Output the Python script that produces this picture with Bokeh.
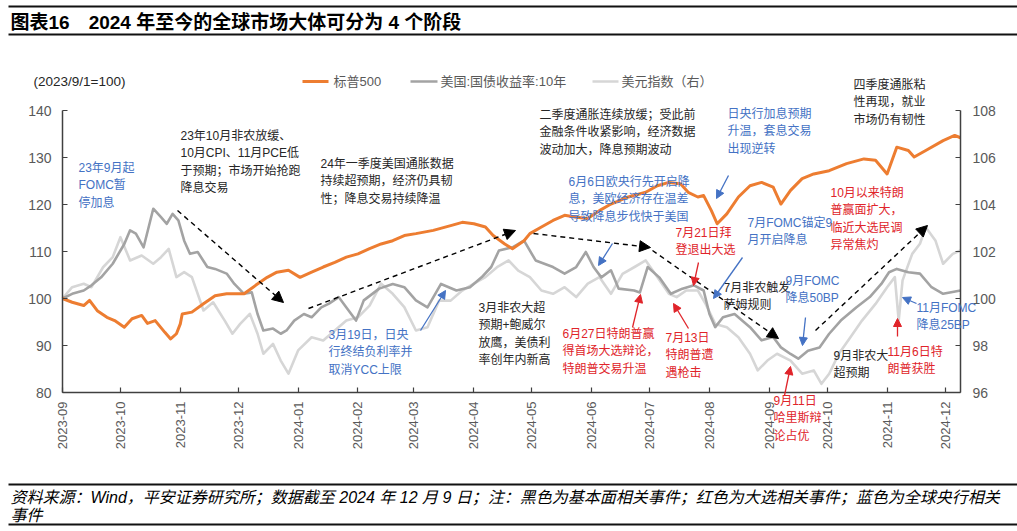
import math
from datetime import datetime
import pandas as pd
from bokeh.plotting import figure
from bokeh.models import (Range1d, LinearAxis, FixedTicker, MonthsTicker, DatetimeTickFormatter,
                          Label, Arrow, NormalHead, ColumnDataSource)
from bokeh.embed import file_html
from bokeh.resources import INLINE

# ---------------- data ----------------
spx_dates = ["2023-09-01", "2023-09-06", "2023-09-12", "2023-09-15", "2023-09-19", "2023-09-24",
             "2023-09-28", "2023-10-03", "2023-10-07", "2023-10-12", "2023-10-15", "2023-10-19",
             "2023-10-24", "2023-10-27", "2023-10-30", "2023-11-01", "2023-11-02", "2023-11-07",
             "2023-11-13", "2023-11-19", "2023-11-25", "2023-12-04", "2023-12-10", "2023-12-16",
             "2023-12-21", "2023-12-27", "2024-01-02", "2024-01-08", "2024-01-14", "2024-01-20",
             "2024-01-26", "2024-02-01", "2024-02-07", "2024-02-13", "2024-02-19", "2024-02-25",
             "2024-03-02", "2024-03-11", "2024-03-20", "2024-03-26", "2024-04-01", "2024-04-07",
             "2024-04-11", "2024-04-17", "2024-04-21", "2024-04-27", "2024-04-30", "2024-05-06",
             "2024-05-12", "2024-05-18", "2024-05-24", "2024-05-30", "2024-06-05", "2024-06-11",
             "2024-06-20", "2024-06-29", "2024-07-05", "2024-07-11", "2024-07-17", "2024-07-21",
             "2024-07-26", "2024-07-29", "2024-08-02", "2024-08-05", "2024-08-10", "2024-08-16",
             "2024-08-22", "2024-08-28", "2024-09-03", "2024-09-07", "2024-09-12", "2024-09-18",
             "2024-09-24", "2024-10-02", "2024-10-11", "2024-10-20", "2024-10-26", "2024-11-01",
             "2024-11-06", "2024-11-12", "2024-11-15", "2024-11-21", "2024-11-30", "2024-12-06",
             "2024-12-09"]
spx_values = [100, 99.2, 98.5, 99.6, 97.4, 96.0,
              95.3, 93.9, 95.7, 96.4, 94.7, 95.3,
              92.8, 91.4, 92.5, 94.6, 96.7, 97.1,
              98.9, 100.6, 101.0, 101.0, 102.8, 104.5,
              105.6, 106.0, 104.5, 105.6, 106.7, 107.7,
              108.8, 109.5, 110.6, 111.6, 112.3, 113.4,
              113.8, 114.5, 115.5, 116.2, 115.9, 115.2,
              113.4, 111.6, 110.6, 112.3, 113.8, 115.2,
              116.6, 117.7, 117.3, 117.0, 118.7, 120.1,
              121.6, 122.6, 124.0, 124.7, 124.4, 122.6,
              121.6, 121.9, 118.7, 115.9, 118.0, 121.6,
              124.0, 124.7, 123.7, 120.1, 123.0, 125.5,
              126.5, 127.2, 128.7, 129.7, 129.4, 126.5,
              132.2, 131.5, 130.1, 131.5, 133.6, 134.7,
              134.2]

ust_dates = ["2023-09-01", "2023-09-06", "2023-09-12", "2023-09-16", "2023-09-21", "2023-09-27",
             "2023-10-03", "2023-10-06", "2023-10-09", "2023-10-13", "2023-10-18", "2023-10-22",
             "2023-10-25", "2023-10-28", "2023-10-31", "2023-11-03", "2023-11-06", "2023-11-10",
             "2023-11-15", "2023-11-19", "2023-11-25", "2023-11-29", "2023-12-04", "2023-12-08",
             "2023-12-11", "2023-12-14", "2023-12-19", "2023-12-23", "2023-12-26", "2023-12-30",
             "2024-01-04", "2024-01-08", "2024-01-13", "2024-01-17", "2024-01-22", "2024-01-26",
             "2024-01-31", "2024-02-04", "2024-02-12", "2024-02-19", "2024-02-25", "2024-03-02",
             "2024-03-08", "2024-03-15", "2024-03-23", "2024-03-30", "2024-04-05", "2024-04-10",
             "2024-04-14", "2024-04-21", "2024-04-27", "2024-05-03", "2024-05-12", "2024-05-18",
             "2024-05-24", "2024-05-29", "2024-06-02", "2024-06-06", "2024-06-11", "2024-06-15",
             "2024-06-23", "2024-06-26", "2024-06-30", "2024-07-06", "2024-07-12", "2024-07-18",
             "2024-07-24", "2024-07-29", "2024-08-01", "2024-08-04", "2024-08-08", "2024-08-14",
             "2024-08-22", "2024-08-28", "2024-09-03", "2024-09-07", "2024-09-12", "2024-09-16",
             "2024-09-21", "2024-09-27", "2024-10-02", "2024-10-08", "2024-10-16", "2024-10-23",
             "2024-10-29", "2024-11-02", "2024-11-06", "2024-11-12", "2024-11-18", "2024-11-24",
             "2024-11-30", "2024-12-09"]
ust_values = [100, 101.0, 101.7, 102.8, 104.5, 107.4,
              111.6, 114.5, 113.8, 110.9, 119.1, 117.3,
              115.9, 118.0, 116.6, 112.3, 109.5, 109.9,
              106.7, 106.3, 105.3, 103.1, 101.0, 101.3,
              96.7, 93.2, 93.6, 92.5, 93.2, 95.3,
              96.7, 96.0, 98.1, 98.9, 100.3, 98.1,
              95.3, 99.6, 102.1, 103.1, 102.4, 99.6,
              98.1, 103.1, 101.7, 102.4, 104.5, 106.7,
              110.2, 110.9, 112.3, 108.1, 106.7, 105.3,
              106.7, 109.9, 106.7, 104.5, 106.0, 102.1,
              101.7, 101.3, 106.7, 104.5, 101.0, 102.1,
              102.8, 101.7, 96.7, 93.9, 96.0, 96.7,
              93.9, 91.1, 91.8, 89.6, 88.2, 87.2,
              88.9, 89.6, 92.5, 95.3, 98.1, 100.3,
              103.1, 105.6, 106.3, 105.6, 105.3, 102.4,
              101.0, 101.7]

dxy_dates = ["2023-09-01", "2023-09-06", "2023-09-12", "2023-09-16", "2023-09-22", "2023-09-27",
             "2023-10-01", "2023-10-06", "2023-10-12", "2023-10-18", "2023-10-22", "2023-10-26",
             "2023-10-30", "2023-11-03", "2023-11-07", "2023-11-13", "2023-11-18", "2023-11-24",
             "2023-11-28", "2023-12-02", "2023-12-07", "2023-12-11", "2023-12-14", "2023-12-19",
             "2023-12-23", "2023-12-27", "2024-01-01", "2024-01-08", "2024-01-14", "2024-01-20",
             "2024-01-26", "2024-02-01", "2024-02-07", "2024-02-13", "2024-02-19", "2024-02-25",
             "2024-03-02", "2024-03-08", "2024-03-14", "2024-03-20", "2024-03-26", "2024-04-01",
             "2024-04-07", "2024-04-13", "2024-04-19", "2024-04-24", "2024-04-30", "2024-05-06",
             "2024-05-12", "2024-05-18", "2024-05-24", "2024-05-30", "2024-06-05", "2024-06-11",
             "2024-06-17", "2024-06-23", "2024-06-29", "2024-07-05", "2024-07-11", "2024-07-15",
             "2024-07-20", "2024-07-26", "2024-07-30", "2024-08-04", "2024-08-10", "2024-08-16",
             "2024-08-22", "2024-08-26", "2024-08-31", "2024-09-05", "2024-09-12", "2024-09-18",
             "2024-09-24", "2024-09-28", "2024-10-02", "2024-10-07", "2024-10-13", "2024-10-19",
             "2024-10-26", "2024-11-01", "2024-11-05", "2024-11-07", "2024-11-09", "2024-11-14",
             "2024-11-18", "2024-11-21", "2024-11-26", "2024-11-30", "2024-12-05", "2024-12-09"]
dxy_values = [100, 100.48, 100.63, 100.48, 101.33, 101.76,
              102.61, 101.62, 101.83, 101.48, 101.76, 102.11,
              100.91, 101.12, 100.91, 99.49, 99.84, 99.06,
              98.5, 98.92, 99.35, 98.5, 97.65, 98.07,
              97.36, 96.8, 97.79, 98.35, 98.21, 98.64,
              99.06, 99.2, 99.7, 100.63, 100.2, 99.63,
              98.64, 98.78, 99.91, 99.91, 100.34, 100.63,
              100.91, 101.33, 101.62, 101.19, 100.91, 100.34,
              100.2, 100.48, 100.06, 100.63, 100.91, 100.2,
              101.05, 101.33, 101.62, 100.91, 100.2, 100.06,
              100.34, 100.34, 99.77, 98.92, 98.78, 98.35,
              97.65, 96.94, 97.36, 97.65, 97.36, 96.8,
              96.94, 96.37, 96.8, 97.65, 98.35, 99.06,
              99.77, 100.48, 100.91, 99.06, 100.77, 101.9,
              102.33, 103.03, 102.47, 101.48, 101.9, 102.04]

series_names = ["标普500", "美国:国债收益率:10年", "美元指数（右）"]
left_ticks = [80, 90, 100, 110, 120, 130, 140]
right_ticks = [96, 98, 100, 102, 104, 106, 108]

title_text = "图表16　2024 年至今的全球市场大体可分为 4 个阶段"
unit_text = "(2023/9/1=100)"
footer_lines = ["资料来源：Wind，平安证券研究所；数据截至 2024 年 12 月 9 日；注：黑色为基本面相关事件；红色为大选相关事件；蓝色为全球央行相关",
                "事件"]

# ---------------- layout / style ----------------
W, H = 1017, 531
FL, FR, FT, FB = 62, 960, 110, 392          # where the axes sit (pixels)
X0, X1 = datetime(2023, 9, 1), datetime(2024, 12, 9)
Y0, Y1 = 80, 140
R0, R1 = 96, 108
FONT = "Liberation Sans, Noto Sans CJK SC"
ORANGE, GRAY, LGRAY = "#ED7D31", "#A3A3A3", "#D6D6D6"
BLUE, RED, BLACK = "#4472C4", "#E0242A", "#262626"
TICKC = "#595959"


def ms(d):
    return (d - datetime(1970, 1, 1)).total_seconds() * 1000.0


def px_x(px):
    return ms(X0) + (px - FL) / (FR - FL) * (ms(X1) - ms(X0))


def px_y(py):
    return Y0 + (FB - py) / (FB - FT) * (Y1 - Y0)


def px_r(py):
    return R0 + (FB - py) / (FB - FT) * (R1 - R0)


# the frame covers the whole canvas; the axes are pinned at fixed locations
p = figure(width=W, height=H, x_axis_type="datetime",
           x_range=Range1d(px_x(0), px_x(W)), y_range=Range1d(px_y(H), px_y(0)),
           output_backend="svg", toolbar_location=None, min_border=0)
p.outline_line_color = None
p.xgrid.visible = False
p.ygrid.visible = False
p.background_fill_color = "white"
p.border_fill_color = "white"

p.extra_y_ranges = {"dxy": Range1d(px_r(H), px_r(0))}
raxis = LinearAxis(y_range_name="dxy", ticker=FixedTicker(ticks=right_ticks))
p.add_layout(raxis, "right")

xaxis = p.xaxis[0]
yaxis = p.yaxis[0]
xaxis.ticker = MonthsTicker(months=list(range(1, 13)))
xaxis.formatter = DatetimeTickFormatter(months="%Y-%m", days="%Y-%m")
xaxis.major_label_orientation = math.pi / 2
xaxis.fixed_location = Y0
xaxis.bounds = (ms(X0), ms(X1))
yaxis.ticker = FixedTicker(ticks=left_ticks)
yaxis.fixed_location = ms(X0)
yaxis.bounds = (Y0, Y1)
raxis.fixed_location = ms(X1)
raxis.bounds = (R0, R1)

for ax in [xaxis, yaxis, raxis]:
    ax.axis_line_color = "#404040"
    ax.axis_line_width = 1.5
    ax.major_tick_line_color = "#404040"
    ax.major_tick_line_width = 1.2
    ax.major_tick_in = 5
    ax.major_tick_out = 0
    ax.minor_tick_line_color = None
    ax.major_label_text_color = TICKC
    ax.major_label_text_font = FONT
xaxis.major_label_text_font_size = "13px"
xaxis.major_label_standoff = 9
yaxis.major_label_text_font_size = "14px"
yaxis.major_label_standoff = 11
raxis.major_label_text_font_size = "14px"
raxis.major_label_standoff = 12

src_spx = ColumnDataSource(dict(d=pd.to_datetime(spx_dates), v=spx_values))
src_ust = ColumnDataSource(dict(d=pd.to_datetime(ust_dates), v=ust_values))
src_dxy = ColumnDataSource(dict(d=pd.to_datetime(dxy_dates), v=dxy_values))

p.line("d", "v", source=src_dxy, y_range_name="dxy", line_color=LGRAY, line_width=2.6, line_join="round")
p.line("d", "v", source=src_ust, line_color=GRAY, line_width=2.6, line_join="round")
p.line("d", "v", source=src_spx, line_color=ORANGE, line_width=3, line_join="round")


def add_label(px, py, text, color, size="12px", style="normal", align="left"):
    p.add_layout(Label(x=px_x(px), y=px_y(py), text=text, text_color=color, text_font=FONT,
                       text_font_size=size, text_font_style=style, text_align=align,
                       text_baseline="middle"))


def add_arrow(x1, y1, x2, y2, color, dash="solid", width=1.3, head=8):
    end = NormalHead(size=head, fill_color=color, line_color=color, line_width=1) if head else None
    p.add_layout(Arrow(x_start=px_x(x1), y_start=px_y(y1), x_end=px_x(x2), y_end=px_y(y2),
                       line_color=color, line_width=width, line_dash=dash, end=end))


# title & rules
add_arrow(8, 6, 1017, 6, "#111111", width=2, head=0)
add_arrow(8, 34, 1017, 34, "#111111", width=2, head=0)
add_label(10, 22, title_text, "#000000", size="19px", style="bold")

# unit + legend
add_label(33, 81, unit_text, BLACK, size="13.5px")
add_arrow(302, 81, 328, 81, ORANGE, width=3, head=0)
add_label(333, 81, series_names[0], TICKC, size="13px")
add_arrow(410, 81, 437, 81, GRAY, width=2.6, head=0)
add_label(440, 81, series_names[1], TICKC, size="13px")
add_arrow(592, 81, 618, 81, LGRAY, width=2.6, head=0)
add_label(621, 81, series_names[2], TICKC, size="13px")

# event annotations: (left px, first-line centre px, colour, lines)
LH = 17.6
notes = [
    (78, 167, BLUE, ["23年9月起", "FOMC暂", "停加息"]),
    (180, 135, BLACK, ["23年10月非农放缓、", "10月CPI、11月PCE低", "于预期；市场开始抢跑", "降息交易"]),
    (320, 163, BLACK, ["24年一季度美国通胀数据", "持续超预期，经济仍具韧", "性；降息交易持续降温"]),
    (539, 114, BLACK, ["二季度通胀连续放缓；受此前", "金融条件收紧影响，经济数据", "波动加大，降息预期波动"]),
    (568, 181, BLUE, ["6月6日欧央行先开启降", "息，美欧经济存在温差", "导致降息步伐快于美国"]),
    (727, 113, BLUE, ["日央行加息预期", "升温，套息交易", "出现逆转"]),
    (853, 84, BLACK, ["四季度通胀粘", "性再现，就业", "市场仍有韧性"]),
    (675, 232, RED, ["7月21日拜", "登退出大选"]),
    (747, 222, BLUE, ["7月FOMC锚定9", "月开启降息"]),
    (830, 192, RED, ["10月以来特朗", "普赢面扩大，", "临近大选民调", "异常焦灼"]),
    (723, 287, BLACK, ["7月非农触发", "萨姆规则"]),
    (785, 280, BLUE, ["9月FOMC", "降息50BP"]),
    (916, 307, BLUE, ["11月FOMC", "降息25BP"]),
    (833, 355, BLACK, ["9月非农大", "超预期"]),
    (887, 351, RED, ["11月6日特", "朗普获胜"]),
    (665, 337, RED, ["7月13日", "特朗普遭", "遇枪击"]),
    (562, 333, RED, ["6月27日特朗普赢", "得首场大选辩论，", "特朗普交易升温"]),
    (478, 307, BLACK, ["3月非农大超", "预期+鲍威尔", "放鹰，美债利", "率创年内新高"]),
    (328, 334, BLUE, ["3月19日，日央", "行终结负利率并", "取消YCC上限"]),
    (773, 400, RED, ["9月11日", "哈里斯辩", "论占优"]),
]
for x, y, col, lines in notes:
    for i, t in enumerate(lines):
        add_label(x, y + i * LH, t, col)

# dashed trend arrows
for a in [(177, 210, 283, 302), (308, 308, 515, 230), (533, 233, 650, 247),
          (652, 250, 778, 338), (815, 330, 927, 225)]:
    add_arrow(*a, "#000000", dash="5 4", width=1.4, head=11)

# event arrows
for a in [(420, 330, 445, 290), (612, 243, 598, 265), (728, 175, 716, 198),
          (742, 257, 713, 298), (805, 317, 802, 345), (916, 303, 902, 297)]:
    add_arrow(*a, BLUE, width=1.3, head=8)
for a in [(632, 327, 640, 294), (688, 328, 673, 303), (698, 262, 693, 285),
          (784, 395, 790, 366), (897, 336, 897, 318)]:
    add_arrow(*a, RED, width=1.3, head=8)

# footer
add_arrow(8, 484, 1017, 484, "#111111", width=2, head=0)
add_arrow(8, 524, 1017, 524, "#111111", width=2, head=0)
add_label(10, 497, footer_lines[0], "#000000", size="16px", style="italic")
add_label(10, 515, footer_lines[1], "#000000", size="16px", style="italic")

open("out.html", "w").write(file_html(p, INLINE))
